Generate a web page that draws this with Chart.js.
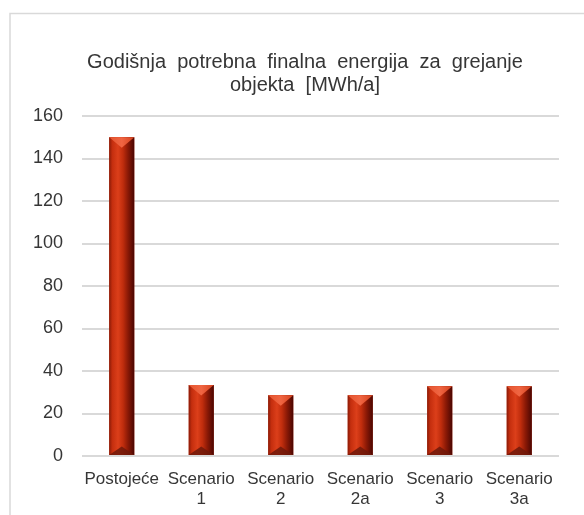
<!DOCTYPE html>
<html>
<head>
<meta charset="utf-8">
<script src="https://cdn.jsdelivr.net/npm/chart.js@4"></script>
<style>
    body { margin: 0; background: #fff; }
    #chart { position: absolute; left: 0; top: 0; }
</style>
</head>
<body>
<canvas id="chart" width="584" height="515"></canvas>
<script>
var categories = ["Postojeće", ["Scenario", "1"], ["Scenario", "2"], ["Scenario", "2a"], ["Scenario", "3"], ["Scenario", "3a"]];
var energy = [150, 33.4, 28.6, 28.6, 32.8, 32.8];
var titleLines = ["Godišnja  potrebna  finalna  energija  za  grejanje", "objekta  [MWh/a]"];

var fontFamily = "'Liberation Sans', Arial, sans-serif";
var textColor = "#363636";

// frame around the chart (top and left edges only are visible)
var framePlugin = {
    id: 'frame',
    beforeDraw: function (chart) {
        var ctx = chart.ctx;
        ctx.save();
        ctx.strokeStyle = '#d9d9d9';
        ctx.lineWidth = 1.5;
        ctx.beginPath();
        ctx.moveTo(10, 515);
        ctx.lineTo(10, 13.5);
        ctx.lineTo(584, 13.5);
        ctx.stroke();
        ctx.restore();
    }
};

// bevelled look on every bar, drawn over the bar elements
var bevelPlugin = {
    id: 'bevel',
    afterDatasetsDraw: function (chart) {
        var ctx = chart.ctx;
        var meta = chart.getDatasetMeta(0);
        meta.data.forEach(function (bar) {
            var p = bar.getProps(['x', 'y', 'base', 'width'], true);
            var l = p.x - p.width / 2, r = p.x + p.width / 2;
            var t = p.y, b = p.base;
            var d = p.width * 0.42;

            var g = ctx.createLinearGradient(l, 0, r, 0);
            g.addColorStop(0, '#8a1a08');
            g.addColorStop(0.12, '#c42e0e');
            g.addColorStop(0.35, '#dc3f1a');
            g.addColorStop(0.55, '#c02d0d');
            g.addColorStop(0.75, '#8a1906');
            g.addColorStop(1, '#4a0602');
            ctx.save();
            ctx.fillStyle = g;
            ctx.fillRect(l, t, p.width, b - t);

            // top facet
            var gt = ctx.createLinearGradient(l, t, r, t);
            gt.addColorStop(0, '#e4552f');
            gt.addColorStop(0.5, '#f06542');
            gt.addColorStop(1, '#d4421e');
            ctx.fillStyle = gt;
            ctx.beginPath();
            ctx.moveTo(l, t);
            ctx.lineTo(r, t);
            ctx.lineTo(p.x, t + d);
            ctx.closePath();
            ctx.fill();

            // bottom facet
            ctx.fillStyle = 'rgba(110, 25, 10, 0.85)';
            ctx.beginPath();
            ctx.moveTo(l, b);
            ctx.lineTo(r, b);
            ctx.lineTo(p.x, b - d * 0.8);
            ctx.closePath();
            ctx.fill();
            ctx.restore();
        });
    }
};

var chart = new Chart(document.getElementById('chart'), {
    type: 'bar',
    data: {
        labels: categories,
        datasets: [{
            label: 'Energija',
            data: energy,
            backgroundColor: '#c0300f',
            borderWidth: 0,
            categoryPercentage: 1,
            barPercentage: 0.315
        }]
    },
    options: {
        responsive: false,
        animation: false,
        layout: { padding: { left: 26, right: 0, top: 0, bottom: 0 } },
        plugins: {
            legend: { display: false },
            tooltip: { enabled: false },
            title: {
                display: true,
                text: titleLines,
                color: textColor,
                font: { family: fontFamily, size: 20, weight: 'normal', lineHeight: 1.15 },
                padding: { top: 51, bottom: 19 }
            }
        },
        scales: {
            x: {
                grid: { display: false },
                border: { display: false },
                ticks: {
                    color: textColor,
                    font: { family: fontFamily, size: 17, lineHeight: 1.2 },
                    padding: 5,
                    maxRotation: 0,
                    autoSkip: false
                },
                afterFit: function (scale) { scale.height = 59; }
            },
            y: {
                min: 0,
                max: 160,
                grid: { color: '#d9d9d9', lineWidth: 2, drawTicks: false },
                border: { display: false },
                ticks: {
                    stepSize: 20,
                    color: textColor,
                    font: { family: fontFamily, size: 18 },
                    padding: 19
                },
                afterFit: function (scale) { scale.width = 56; }
            },
            // empty right-hand spacer so the title stays centred on the whole frame
            yRight: {
                position: 'right',
                grid: { display: false },
                border: { display: false },
                ticks: { display: false },
                afterFit: function (scale) { scale.width = 25; }
            }
        }
    },
    plugins: [framePlugin, bevelPlugin]
});
</script>
</body>
</html>
